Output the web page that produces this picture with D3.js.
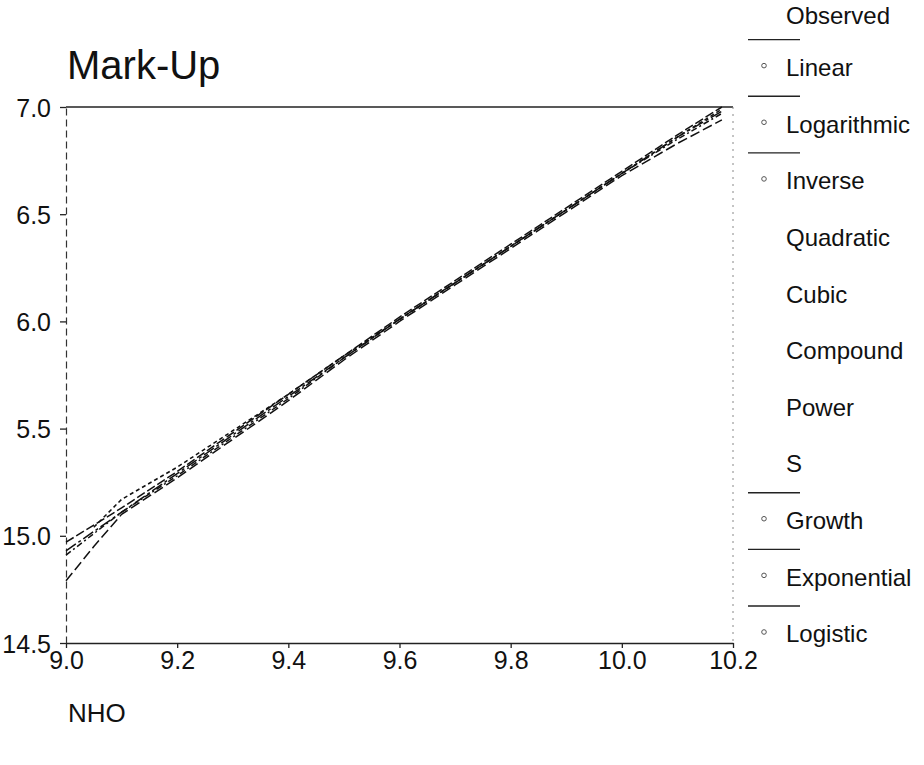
<!DOCTYPE html>
<html><head><meta charset="utf-8">
<script src="https://cdn.jsdelivr.net/npm/d3@7"></script>
<style>
body{margin:0;background:#fff;}
svg text{font-family:"Liberation Sans",Arial,sans-serif;fill:#111;}
</style></head>
<body><svg id="c" width="924" height="765"></svg>
<script>
// ---- data ----
const xValues = [9.0, 9.05, 9.1, 9.2, 9.3, 9.4, 9.5, 9.6, 9.7, 9.8, 9.9, 10.0, 10.1, 10.18];
const linearVals      = [14.97, 15.05, 15.13, 15.30, 15.48, 15.66, 15.84, 16.02, 16.19, 16.36, 16.53, 16.70, 16.87, 17.00];
const logarithmicVals = [14.91, 15.01, 15.11, 15.28, 15.46, 15.64, 15.83, 16.01, 16.18, 16.35, 16.52, 16.69, 16.85, 16.97];
const inverseVals     = [14.79, 14.95, 15.10, 15.27, 15.45, 15.63, 15.82, 16.00, 16.17, 16.34, 16.51, 16.68, 16.83, 16.94];
const cubicVals       = [null, 15.04, 15.17, 15.32, 15.49, 15.66, 15.84, 16.01, 16.18, 16.35, 16.52, 16.69, 16.86, 16.99];
const growthVals      = [14.93, 15.02, 15.11, 15.29, 15.47, 15.65, 15.83, 16.01, 16.18, 16.35, 16.52, 16.69, 16.86, 16.98];
const seriesNames = ["Linear","Logarithmic","Inverse","Cubic","Growth"];
const seriesData = [linearVals, logarithmicVals, inverseVals, cubicVals, growthVals];
const xTicks = [9.0, 9.2, 9.4, 9.6, 9.8, 10.0, 10.2];
const xTickLabels = ["9.0","9.2","9.4","9.6","9.8","10.0","10.2"];
const yTicks = [14.5, 15.0, 15.5, 16.0, 16.5, 17.0];
const yTickLabels = ["14.5","15.0","5.5","6.0","6.5","7.0"];
const legendItems = ["Observed","Linear","Logarithmic","Inverse","Quadratic","Cubic","Compound","Power","S","Growth","Exponential","Logistic"];
const legendWithLine = ["Linear","Logarithmic","Inverse","Growth","Exponential","Logistic"];
const titleText = "Mark-Up";
const xTitle = "NHO";

// ---- drawing ----
const svg = d3.select("#c");
const x = d3.scaleLinear().domain([9.0, 10.2]).range([66, 733]);
const y = d3.scaleLinear().domain([14.5, 17.0]).range([643, 107]);

svg.append("text").attr("x", 67).attr("y", 79).attr("font-size", 40).text(titleText);

// frame
svg.append("line").attr("x1", x(9.0)).attr("x2", x(10.2)).attr("y1", y(17)).attr("y2", y(17))
  .attr("stroke", "#222").attr("stroke-width", 1.5);
svg.append("line").attr("x1", x(10.2)).attr("x2", x(10.2)).attr("y1", y(17)).attr("y2", y(14.5))
  .attr("stroke", "#888").attr("stroke-width", 1).attr("stroke-dasharray", "2,5");

// x axis
const xAxis = d3.axisBottom(x).tickValues(xTicks).tickFormat((d, i) => xTickLabels[i]).tickSize(5).tickSizeOuter(0).tickPadding(3);
const gx = svg.append("g").attr("transform", `translate(0,${y(14.5)})`).call(xAxis);
gx.select(".domain").attr("stroke", "#222").attr("stroke-width", 1.5);
gx.selectAll(".tick line").attr("stroke", "#222").attr("stroke-width", 1.3);
gx.selectAll("text").attr("font-size", 25).attr("fill", "#111").attr("font-family", "Liberation Sans, Arial, sans-serif");

// y axis
const yAxis = d3.axisLeft(y).tickValues(yTicks).tickFormat((d, i) => yTickLabels[i]).tickSize(6).tickSizeOuter(0).tickPadding(9);
const gy = svg.append("g").attr("transform", `translate(${x(9.0)},0)`).call(yAxis);
gy.select(".domain").attr("stroke", "#333").attr("stroke-width", 1.2).attr("stroke-dasharray", "7,4");
gy.selectAll(".tick line").attr("stroke", "#222").attr("stroke-width", 1.3);
gy.selectAll("text").attr("font-size", 25).attr("fill", "#111").attr("font-family", "Liberation Sans, Arial, sans-serif").attr("dy", "0.36em");

// x title
svg.append("text").attr("x", 68).attr("y", 722).attr("font-size", 26).text(xTitle);

// series
const dashes = ["9,3", "6,3,2,3", "10,4", "4,3", "12,3,3,3"];
const line = d3.line().defined(d => d[1] != null).x(d => x(d[0])).y(d => y(d[1]));
seriesData.forEach((vals, i) => {
  svg.append("path").datum(xValues.map((xv, j) => [xv, vals[j]]))
    .attr("d", line).attr("fill", "none").attr("stroke", "#111")
    .attr("stroke-width", 1.5).attr("stroke-dasharray", dashes[i]);
});

// legend
const legendY = d3.scalePoint().domain(legendItems).range([11, 634]);
legendItems.forEach(name => {
  const ly = name === "Observed" ? 16 : legendY(name);
  svg.append("text").attr("x", 786).attr("y", ly).attr("font-size", 24).attr("dy", "0.35em").text(name);
  if (legendWithLine.includes(name)) {
    svg.append("line").attr("x1", 748).attr("x2", 800).attr("y1", ly - 28).attr("y2", ly - 28)
      .attr("stroke", "#222").attr("stroke-width", 1.3);
    svg.append("circle").attr("cx", 764).attr("cy", ly - 2).attr("r", 2.3)
      .attr("fill", "none").attr("stroke", "#555").attr("stroke-width", 1);
  }
});
</script></body></html>
